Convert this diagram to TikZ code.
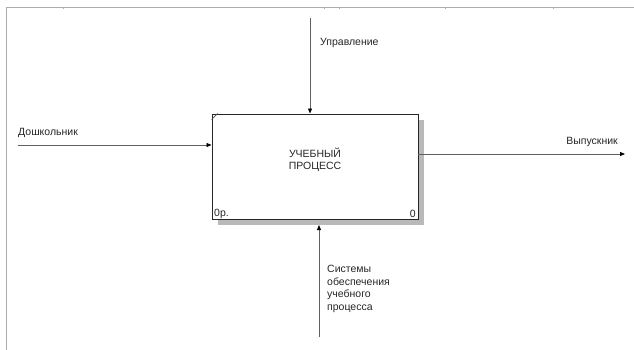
\documentclass[tikz,border=0pt]{standalone}
\usepackage{fontspec}
\setmainfont{Liberation Sans}
\usetikzlibrary{arrows.meta}
\begin{document}
\begin{tikzpicture}[x=1pt,y=-1pt,
 lbl/.style={font=\fontsize{10.5}{12.5}\selectfont, inner sep=0pt, text=black!85},
 arr/.style={draw=gray!75!black, line width=0.8pt, -{Triangle[length=5pt,width=4pt,color=black]}},
 frame/.style={draw=gray!65, line width=0.8pt},
]
\useasboundingbox (0,0) rectangle (634,350);
% frame
\draw[frame] (6,350) -- (6,7) -- (634,7);
\foreach \tx in {63,324,339,445,553} \draw[frame] (\tx,7) -- (\tx,9);
% shadow
\fill[gray!55] (218,120) rectangle (424,225);
% activity box
\node[draw=black!85, line width=0.9pt, fill=white, minimum width=206pt, minimum height=105pt, inner sep=0pt] (box) at (315,166.5) {};
\draw[black!70, line width=0.6pt] ([yshift=-6pt]box.north west) -- ([xshift=6pt]box.north west);
\node[lbl, align=center] (title) at (315,160) {УЧЕБНЫЙ\\ПРОЦЕСС};
\node[lbl, anchor=west] (num) at (214,214) {0р.};
\node[lbl, anchor=east] (cost) at (416,214) {0};
% coordinates
\coordinate (ctrlstart) at (310,18);
\coordinate (instart) at (18,145);
\coordinate (outend) at (625,154);
\coordinate (mechstart) at (319,337);
\coordinate (mechend) at (319,225);
% connectors
\draw[arr] (ctrlstart) -- (ctrlstart |- box.north);
\draw[arr] (instart) -- (box.west |- instart);
\draw[arr] (box.east |- outend) -- (outend);
\draw[arr] (mechstart) -- (mechend);
% labels
\node[lbl, anchor=west] (ctrl) at (320,43) {Управление};
\node[lbl, anchor=west] (inp) at (18,133) {Дошкольник};
\node[lbl, anchor=east] (outp) at (618,142) {Выпускник};
\node[lbl, anchor=west, align=left] (mech) at (327,289) {Системы\\обеспечения\\учебного\\процесса};
\end{tikzpicture}
\end{document}
